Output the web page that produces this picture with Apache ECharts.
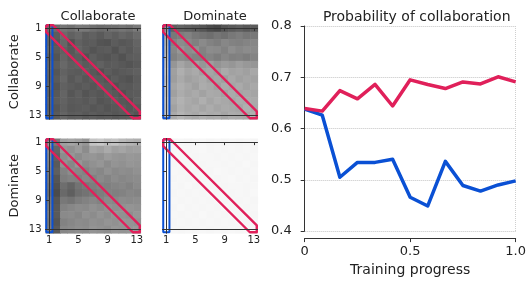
<!DOCTYPE html>
<html>
<head>
<meta charset="utf-8">
<script src="https://cdn.jsdelivr.net/npm/echarts@6/dist/echarts.min.js"></script>
<style>
  html, body { margin: 0; padding: 0; background: #fff; }
  #chart { width: 529px; height: 282px; }
</style>
</head>
<body>
<div id="chart"></div>
<script>
  // 训练进度 (x) 与两条曲线
  const progress = [0, 0.0833, 0.1667, 0.25, 0.3333, 0.4167, 0.5, 0.5833, 0.6667, 0.75, 0.8333, 0.9167, 1];
  const probRed = [0.639, 0.634, 0.674, 0.658, 0.686, 0.644, 0.695, 0.686, 0.678, 0.691, 0.687, 0.701, 0.691];
  const probBlue = [0.638, 0.626, 0.505, 0.534, 0.534, 0.540, 0.466, 0.449, 0.536, 0.489, 0.478, 0.490, 0.498];

  const yTicks = [0.4, 0.5, 0.6, 0.7, 0.8];
  const xTicks = [0, 0.5, 1];
  const xTickLabels = ['0', '0.5', '1.0'];

  // 热力图刻度 (第 1, 5, 9, 13 个)
  const cellTicks = [0, 4, 8, 12];
  const cellTickLabels = ['1', '5', '9', '13'];

  const rowNames = ['Collaborate', 'Dominate'];
  const colNames = ['Collaborate', 'Dominate'];

  // 灰度值 0-255, 行 = 纵轴 1..13
  const grayCC = [
    [112, 107, 117, 112, 122, 120, 112, 107, 110, 112, 117, 112, 122],
    [102, 92, 107, 97, 104, 92, 97, 90, 100, 94, 102, 97, 107],
    [100, 87, 102, 82, 97, 90, 92, 84, 82, 92, 87, 90, 100],
    [104, 90, 97, 87, 100, 92, 84, 90, 92, 82, 94, 88, 97],
    [97, 84, 100, 90, 92, 82, 94, 87, 84, 90, 82, 92, 94],
    [102, 92, 104, 94, 97, 90, 92, 97, 90, 92, 88, 84, 90],
    [100, 86, 98, 92, 90, 94, 88, 82, 92, 86, 90, 92, 96],
    [98, 90, 102, 88, 96, 87, 92, 90, 84, 92, 86, 82, 92],
    [102, 84, 97, 92, 88, 92, 86, 94, 90, 82, 90, 88, 94],
    [96, 88, 100, 86, 94, 84, 90, 86, 92, 88, 82, 90, 92],
    [100, 92, 98, 90, 92, 88, 94, 84, 88, 92, 87, 84, 96],
    [98, 86, 96, 88, 90, 92, 86, 90, 84, 88, 92, 86, 90],
    [102, 90, 100, 92, 94, 88, 92, 88, 90, 86, 90, 92, 84]
  ];
  const grayCD = [
    [150, 95, 100, 95, 90, 85, 75, 70, 85, 90, 95, 88, 92],
    [170, 120, 125, 130, 120, 115, 110, 118, 112, 120, 125, 118, 120],
    [175, 130, 140, 135, 128, 138, 130, 125, 135, 130, 128, 132, 135],
    [180, 135, 150, 140, 145, 130, 140, 138, 130, 142, 135, 140, 138],
    [185, 130, 140, 135, 130, 128, 132, 125, 135, 128, 130, 125, 132],
    [190, 150, 165, 155, 160, 150, 158, 148, 155, 150, 158, 152, 150],
    [195, 160, 175, 165, 170, 160, 165, 158, 170, 162, 165, 160, 168],
    [190, 158, 170, 160, 165, 170, 160, 165, 158, 168, 160, 165, 162],
    [195, 165, 175, 168, 160, 172, 168, 160, 170, 165, 170, 162, 168],
    [190, 160, 172, 165, 170, 162, 170, 168, 162, 170, 165, 168, 165],
    [195, 168, 178, 170, 165, 175, 165, 172, 168, 165, 172, 170, 170],
    [192, 162, 175, 168, 172, 165, 172, 165, 170, 168, 165, 175, 168],
    [195, 170, 180, 172, 168, 175, 170, 172, 165, 172, 170, 168, 175]
  ];
  const grayDC = [
    [150, 120, 160, 165, 160, 150, 195, 200, 190, 195, 185, 180, 175],
    [140, 100, 150, 145, 155, 140, 165, 160, 170, 160, 165, 158, 160],
    [135, 95, 140, 150, 140, 148, 150, 145, 155, 150, 148, 152, 150],
    [130, 90, 145, 135, 150, 138, 145, 150, 140, 148, 145, 150, 148],
    [125, 95, 130, 140, 135, 130, 140, 135, 145, 138, 142, 140, 145],
    [120, 85, 125, 130, 128, 135, 130, 138, 132, 140, 135, 138, 140],
    [115, 80, 110, 100, 115, 120, 125, 130, 128, 132, 135, 130, 138],
    [110, 75, 105, 95, 110, 115, 120, 125, 130, 128, 130, 135, 132],
    [118, 85, 120, 115, 125, 130, 135, 130, 138, 135, 140, 138, 140],
    [122, 88, 130, 135, 140, 138, 145, 140, 145, 142, 145, 148, 145],
    [125, 90, 138, 140, 135, 145, 140, 148, 142, 148, 145, 142, 150],
    [120, 85, 130, 135, 140, 138, 145, 142, 148, 145, 150, 148, 145],
    [125, 90, 135, 138, 142, 140, 148, 145, 142, 150, 148, 150, 152]
  ];
  const grayDD = [
    [255, 245, 246, 245, 246, 247, 245, 246, 245, 246, 245, 246, 245],
    [255, 246, 247, 246, 247, 248, 246, 247, 246, 247, 246, 247, 246],
    [255, 247, 246, 247, 246, 247, 247, 246, 247, 246, 247, 246, 247],
    [255, 246, 247, 246, 248, 246, 247, 247, 246, 247, 246, 248, 246],
    [255, 247, 246, 247, 246, 247, 246, 248, 247, 246, 247, 246, 247],
    [255, 246, 247, 246, 247, 246, 247, 246, 247, 248, 246, 247, 246],
    [255, 247, 246, 248, 246, 247, 246, 247, 246, 247, 247, 246, 247],
    [255, 246, 247, 246, 247, 246, 248, 246, 247, 246, 247, 246, 248],
    [255, 247, 246, 247, 246, 247, 246, 247, 246, 247, 246, 247, 246],
    [255, 246, 248, 246, 247, 246, 247, 246, 248, 246, 247, 246, 247],
    [255, 247, 246, 247, 246, 248, 246, 247, 246, 247, 246, 248, 246],
    [255, 246, 247, 246, 247, 246, 247, 246, 247, 246, 247, 246, 247],
    [255, 247, 246, 247, 246, 247, 246, 247, 246, 247, 246, 247, 248]
  ];

  // 标注框: 第 1 列 (蓝) 与 对角线 (红)
  const blueBox = [[-0.4, -0.4], [0.45, -0.4], [0.45, 12.4], [-0.4, 12.4], [-0.4, -0.4]];
  const redBand = [[-0.4, -0.4], [0.55, -0.4], [12.4, 11.45], [12.4, 12.4], [11.45, 12.4], [-0.4, 0.55], [-0.4, -0.4]];

  const RED = '#e0205a';
  const BLUE = '#0a50d4';
  const FONT = 'DejaVu Sans';
  const TXT = '#222';

  const panels = [
    { left: 45.5, top: 24.5, gray: grayCC, row: 0, col: 0 },
    { left: 162.5, top: 24.5, gray: grayCD, row: 0, col: 1 },
    { left: 45.5, top: 138.5, gray: grayDC, row: 1, col: 0 },
    { left: 162.5, top: 138.5, gray: grayDD, row: 1, col: 1 }
  ];

  function renderCell(params, api) {
    const x = api.value(0), y = api.value(1), g = api.value(2);
    const p0 = api.coord([x - 0.5, y - 0.5]);
    const p1 = api.coord([x + 0.5, y + 0.5]);
    return {
      type: 'rect',
      shape: {
        x: Math.min(p0[0], p1[0]),
        y: Math.min(p0[1], p1[1]),
        width: Math.abs(p1[0] - p0[0]) + 0.6,
        height: Math.abs(p1[1] - p0[1]) + 0.6
      },
      style: { fill: 'rgb(' + g + ',' + g + ',' + g + ')' }
    };
  }

  const grid = [], xAxis = [], yAxis = [], series = [], title = [];

  panels.forEach(function (p, i) {
    grid.push({ left: p.left, top: p.top, width: 95, height: 94.5 });
    const frame = { show: true, lineStyle: { color: '#333', width: 1 } };
    const tick = { show: true, length: 3, lineStyle: { color: '#333' }, customValues: cellTicks };
    const lbl = function (m) {
      return {
        show: true, customValues: cellTicks, fontSize: 10, color: TXT, fontFamily: FONT, margin: m,
        formatter: function (v) { return cellTickLabels[cellTicks.indexOf(Math.round(v))]; }
      };
    };
    // 下/左 主轴
    xAxis.push({
      type: 'value', gridIndex: i, min: -0.5, max: 12.5, z: 10,
      axisLine: frame, axisTick: tick, splitLine: { show: false },
      axisLabel: p.row === 1 ? lbl(2) : { show: false }
    });
    yAxis.push({
      type: 'value', gridIndex: i, min: -0.5, max: 12.5, inverse: true, z: 10,
      axisLine: frame, axisTick: tick, splitLine: { show: false },
      axisLabel: p.col === 0 ? lbl(4) : { show: false },
      name: p.col === 0 ? rowNames[p.row] : '',
      nameLocation: 'middle', nameRotate: 90, nameGap: 24,
      nameTextStyle: { fontSize: 13, color: TXT, fontFamily: FONT }
    });
    // 上/右 边框
    xAxis.push({
      type: 'value', gridIndex: i, min: -0.5, max: 12.5, position: 'top', z: 10,
      axisLine: frame, axisTick: { show: false }, axisLabel: { show: false }, splitLine: { show: false }
    });
    yAxis.push({
      type: 'value', gridIndex: i, min: -0.5, max: 12.5, position: 'right', z: 10,
      axisLine: frame, axisTick: { show: false }, axisLabel: { show: false }, splitLine: { show: false }
    });

    const cells = [];
    p.gray.forEach(function (rowVals, r) {
      rowVals.forEach(function (g, c) { cells.push([c, r, g]); });
    });
    const xi = i * 2, yi = i * 2;
    series.push({
      type: 'custom', xAxisIndex: xi, yAxisIndex: yi, renderItem: renderCell,
      encode: { x: 0, y: 1 }, data: cells, z: 1, silent: true
    });
    series.push({
      type: 'line', xAxisIndex: xi, yAxisIndex: yi, data: blueBox, symbol: 'none', z: 3,
      lineStyle: { color: BLUE, width: 2 }, silent: true
    });
    series.push({
      type: 'line', xAxisIndex: xi, yAxisIndex: yi, data: redBand, symbol: 'none', z: 4,
      lineStyle: { color: RED, width: 2.4, join: 'round' }, silent: true
    });

    if (p.row === 0) {
      title.push({
        text: colNames[p.col], left: p.left + 47.5, top: 5, textAlign: 'center',
        textStyle: { fontSize: 13, fontWeight: 'normal', color: TXT, fontFamily: FONT }
      });
    }
  });

  // 右侧折线图
  const gi = grid.length;
  grid.push({ left: 304.7, right: 10.3, top: 26, bottom: 48.5 });
  const lx = xAxis.length, ly = yAxis.length;
  xAxis.push({
    type: 'value', gridIndex: gi, min: 0, max: 1, interval: 0.5, offset: 7,
    axisLine: { show: true, onZero: false, lineStyle: { color: '#333', width: 1 } },
    axisTick: { show: true, length: 4, lineStyle: { color: '#333' } },
    axisLabel: {
      fontSize: 13, color: TXT, fontFamily: FONT, margin: 7,
      formatter: function (v) { return xTickLabels[xTicks.indexOf(v)]; }
    },
    splitLine: { show: false },
    name: 'Training progress', nameLocation: 'middle', nameGap: 24,
    nameTextStyle: { fontSize: 14, color: TXT, fontFamily: FONT }
  });
  // 竖直网格线 (0 和 1)
  xAxis.push({
    type: 'value', gridIndex: gi, min: 0, max: 1, interval: 1,
    axisLine: { show: false }, axisTick: { show: false }, axisLabel: { show: false },
    splitLine: { show: true, lineStyle: { color: '#cfcfcf', type: 'dotted', width: 1 } }
  });
  yAxis.push({
    type: 'value', gridIndex: gi, min: 0.4, max: 0.8, interval: 0.1, offset: 4,
    axisLine: { show: true, lineStyle: { color: '#333', width: 1 } },
    axisTick: { show: true, length: 4, lineStyle: { color: '#333' } },
    axisLabel: {
      fontSize: 13, color: TXT, fontFamily: FONT, margin: 9,
      formatter: function (v) { return v.toFixed(1); }
    },
    splitLine: { show: true, lineStyle: { color: '#c4c4c4', type: 'dotted', width: 1 } }
  });
  series.push({
    name: 'Dominate', type: 'line', xAxisIndex: lx, yAxisIndex: ly, symbol: 'none', z: 5,
    data: progress.map(function (x, k) { return [x, probBlue[k]]; }),
    lineStyle: { color: BLUE, width: 3.5, join: 'round' }
  });
  series.push({
    name: 'Collaborate', type: 'line', xAxisIndex: lx, yAxisIndex: ly, symbol: 'none', z: 6,
    data: progress.map(function (x, k) { return [x, probRed[k]]; }),
    lineStyle: { color: RED, width: 3.5, join: 'round' }
  });
  title.push({
    text: 'Probability of collaboration', left: 411.7, top: 5, textAlign: 'center',
    textStyle: { fontSize: 14, fontWeight: 'normal', color: TXT, fontFamily: FONT }
  });

  const myChart = echarts.init(document.getElementById('chart'));
  myChart.setOption({
    animation: false,
    backgroundColor: '#fff',
    title: title,
    grid: grid,
    xAxis: xAxis,
    yAxis: yAxis,
    series: series
  });
  window.addEventListener('resize', myChart.resize);
</script>
</body>
</html>
